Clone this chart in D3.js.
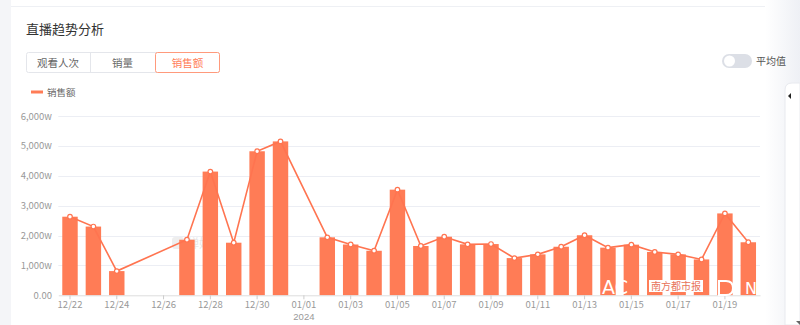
<!DOCTYPE html>
<html>
<head>
<meta charset="utf-8">
<script src="https://cdn.jsdelivr.net/npm/d3@7"></script>
<style>
  body { margin: 0; background: #fff; }
  svg { display: block; font-family: "Noto Sans CJK SC", "Noto Sans", sans-serif; }
</style>
</head>
<body>
<svg id="chart" width="800" height="325"></svg>
<script>
// days shown on the x axis
const dates = ["12/22","12/23","12/24","12/25","12/26","12/27","12/28","12/29","12/30","12/31",
  "01/01","01/02","01/03","01/04","01/05","01/06","01/07","01/08","01/09","01/10",
  "01/11","01/12","01/13","01/14","01/15","01/16","01/17","01/18","01/19","01/20"]

// 销售额 in 万 (w), null = no live stream that day
const sales = [2630, 2300, 810, null, null, 1860, 4140, 1760, 4820, 5150,
  null, 1940, 1700, 1490, 3535, 1650, 1960, 1705, 1715, 1245,
  1370, 1625, 2010, 1595, 1695, 1450, 1370, 1200, 2740, 1775]

const yTicks = [0, 1000, 2000, 3000, 4000, 5000, 6000]
const tabs = ["观看人次", "销量", "销售额"]

const orange = "#ff7c56"
const svg = d3.select("#chart")

// page background bits
svg.append("rect").attr("x", 0).attr("y", 0).attr("width", 11).attr("height", 325).attr("fill", "#f4f5f8")
svg.append("line").attr("x1", 11).attr("x2", 780).attr("y1", 6.5).attr("y2", 6.5)
    .attr("stroke", "#eef0f4")

const fade = svg.append("defs").append("linearGradient").attr("id", "fade")
fade.append("stop").attr("offset", "0").attr("stop-color", "#fff")
fade.append("stop").attr("offset", "1").attr("stop-color", "#eef0f5")
svg.append("rect").attr("x", 765).attr("y", 0).attr("width", 35).attr("height", 325).attr("fill", "url(#fade)")
svg.append("path").attr("d", "M800,83 L792,83 Q785,83 785,90 L785,325 L800,325 Z")
    .attr("fill", "#fff").attr("stroke", "#e8eaef")
svg.append("path").attr("d", "M791,93 L788,96 L791,99 Z").attr("fill", "#222")
svg.append("path").attr("d", "M796,321 L800,321 L800,325 Z").attr("fill", "#666")

// title
svg.append("text").attr("x", 26).attr("y", 34).attr("font-size", 13).attr("fill", "#333")
    .text("直播趋势分析")

// tab buttons
const tabX = [26, 90, 155, 220]
svg.append("rect").attr("x", 26.5).attr("y", 52.5).attr("width", 193).attr("height", 20)
    .attr("rx", 2).attr("fill", "#fff").attr("stroke", "#e4e6eb")
svg.append("line").attr("x1", 90.5).attr("x2", 90.5).attr("y1", 53).attr("y2", 72).attr("stroke", "#e4e6eb")
tabs.forEach((t, i) => {
    const sel = i === 2
    if (sel) {
        svg.append("rect").attr("x", tabX[i] + 0.5).attr("y", 52.5).attr("width", tabX[i + 1] - tabX[i] - 1)
            .attr("height", 20).attr("rx", 2).attr("fill", "#fff").attr("stroke", "#ff9a7c")
    }
    svg.append("text").attr("x", (tabX[i] + tabX[i + 1]) / 2).attr("y", 66.5)
        .attr("text-anchor", "middle").attr("font-size", 10.5)
        .attr("fill", sel ? "#ff7c56" : "#666").text(t)
})

// 平均值 switch
svg.append("rect").attr("x", 722).attr("y", 54).attr("width", 30).attr("height", 14).attr("rx", 7)
    .attr("fill", "#dcdfe6")
svg.append("circle").attr("cx", 729.5).attr("cy", 61).attr("r", 5.5).attr("fill", "#fff")
svg.append("text").attr("x", 756).attr("y", 65).attr("font-size", 10).attr("fill", "#555").text("平均值")

// legend
svg.append("line").attr("x1", 31).attr("x2", 43).attr("y1", 92).attr("y2", 92)
    .attr("stroke", orange).attr("stroke-width", 3)
svg.append("text").attr("x", 47).attr("y", 95.5).attr("font-size", 9.5).attr("fill", "#666").text("销售额")

// scales
const x = d3.scaleBand().domain(dates).range([58.3, 760]).paddingInner(0.34).paddingOuter(0.17)
const y = d3.scaleLinear().domain([0, 6000]).range([295.3, 116])

// grid + y labels
const grid = svg.append("g")
grid.selectAll("line").data(yTicks.slice(1)).join("line")
    .attr("x1", 58.3).attr("x2", 760)
    .attr("y1", d => Math.round(y(d)) + 0.5).attr("y2", d => Math.round(y(d)) + 0.5)
    .attr("stroke", "#eceef4")
svg.append("g").selectAll("text").data(yTicks).join("text")
    .attr("x", 52).attr("y", d => y(d) + 3.5).attr("text-anchor", "end")
    .attr("font-size", 9.5).attr("fill", "#999")
    .text(d => d === 0 ? "0.00" : d3.format(",")(d) + "w")

// watermark in the middle
svg.append("rect").attr("x", 172).attr("y", 237).attr("width", 12).attr("height", 12).attr("rx", 3)
    .attr("fill", "#eeeeee")
svg.append("text").attr("x", 187).attr("y", 248).attr("font-size", 12).attr("fill", "#e8e8e8").text("蝉妈")

// bars
const data = dates.map((d, i) => ({date: d, v: sales[i]})).filter(d => d.v !== null)
svg.append("g").selectAll("rect").data(data).join("rect")
    .attr("x", d => x(d.date)).attr("width", x.bandwidth())
    .attr("y", d => y(d.v)).attr("height", d => y(0) - y(d.v))
    .attr("fill", orange)

// x axis
const xAxis = d3.axisBottom(x).tickValues(dates.filter((d, i) => i % 2 === 0)).tickSize(4).tickSizeOuter(0)
const gx = svg.append("g").attr("transform", "translate(0,295.3)").call(xAxis)
gx.select(".domain").attr("stroke", "#ddd")
gx.selectAll(".tick line").attr("stroke", "#ccc")
gx.selectAll(".tick text").attr("fill", "#999").attr("font-size", 9.5).attr("dy", "0.6em")
    .attr("font-family", "'Noto Sans CJK SC', sans-serif")
gx.append("text").attr("x", x("01/01") + x.bandwidth() / 2).attr("y", 24.5)
    .attr("text-anchor", "middle").attr("fill", "#999").attr("font-size", 9.5).text("2024")

// overlaid white watermark near the bottom right
const wm = svg.append("g").attr("fill", "#fff")
wm.append("text").attr("x", 602).attr("y", 294).attr("font-size", 19).attr("font-family", "DejaVu Sans")
    .text("AC")
wm.append("rect").attr("x", 649).attr("y", 280).attr("width", 54).attr("height", 12).attr("fill", "#fff")
wm.append("text").attr("x", 651).attr("y", 290).attr("font-size", 10).attr("fill", "#e8735a").text("南方都市报")
wm.append("path").attr("d", "M719,281 L726,281 Q733,281 733,288 Q733,295 726,295 L719,295 Z")
    .attr("fill", "none").attr("stroke", "#fff").attr("stroke-width", 2)
wm.append("text").attr("x", 745).attr("y", 294).attr("font-size", 16).attr("font-family", "DejaVu Sans")
    .text("N")

// line through existing points (gaps skipped, like the original)
const line = d3.line().x(d => x(d.date) + x.bandwidth() / 2).y(d => y(d.v))
svg.append("path").datum(data).attr("d", line)
    .attr("fill", "none").attr("stroke", "#ff7450").attr("stroke-width", 1.6)
svg.append("g").selectAll("circle").data(data).join("circle")
    .attr("cx", d => x(d.date) + x.bandwidth() / 2).attr("cy", d => y(d.v)).attr("r", 2.3)
    .attr("fill", "#fff").attr("stroke", "#ff7450").attr("stroke-width", 1.2)
</script>
</body>
</html>
